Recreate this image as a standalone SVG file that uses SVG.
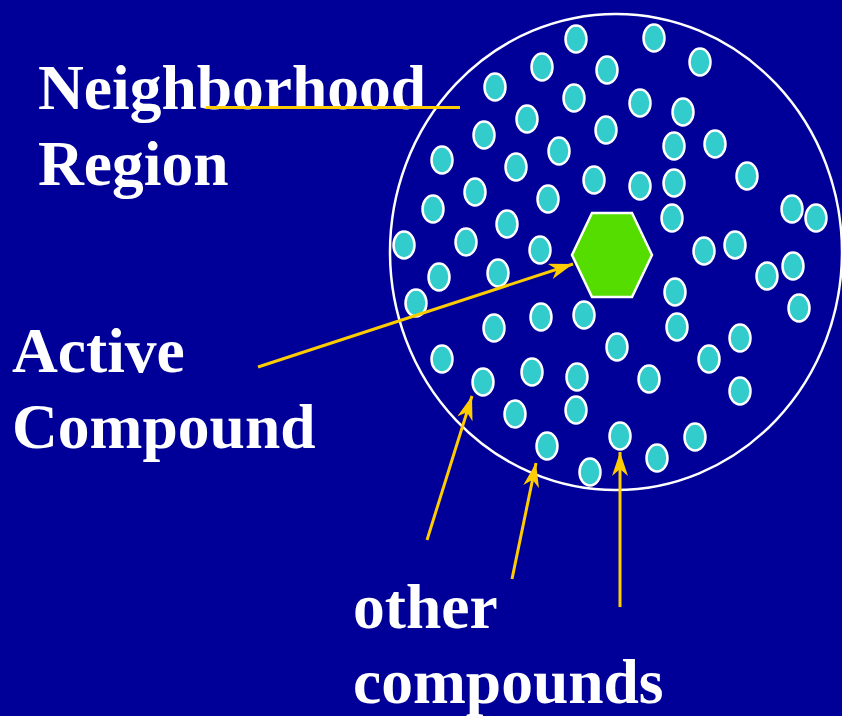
<svg xmlns="http://www.w3.org/2000/svg" width="842" height="716" viewBox="0 0 842 716">
<defs>
<style>
.lbl{font-family:"Liberation Serif","Times New Roman",serif;font-weight:bold;font-size:63.5px;fill:#FFFFFF}
.dot{fill:#33CCCC;stroke:#FFFFFF;stroke-width:2.5}
.conn{stroke:#FFCC00;stroke-width:3;fill:none}
</style>
<marker id="ah" viewBox="0 0 24 16" refX="24" refY="8" markerWidth="24" markerHeight="16" markerUnits="userSpaceOnUse" orient="auto">
<path d="M0,0 L24,8 L0,16 L7,8 Z" fill="#FFCC00"/>
</marker>
</defs>
<rect x="0" y="0" width="842" height="716" fill="#000099"/>
<g id="region">
<ellipse cx="616" cy="252" rx="226" ry="238" fill="none" stroke="#FFFFFF" stroke-width="2.5"/>
</g>
<g id="others">
<ellipse class="dot" cx="576" cy="39" rx="10.5" ry="13.5"/>
<ellipse class="dot" cx="654" cy="38" rx="10.5" ry="13.5"/>
<ellipse class="dot" cx="542" cy="67" rx="10.5" ry="13.5"/>
<ellipse class="dot" cx="607" cy="70" rx="10.5" ry="13.5"/>
<ellipse class="dot" cx="700" cy="62" rx="10.5" ry="13.5"/>
<ellipse class="dot" cx="495" cy="87" rx="10.5" ry="13.5"/>
<ellipse class="dot" cx="574" cy="98" rx="10.5" ry="13.5"/>
<ellipse class="dot" cx="640" cy="103" rx="10.5" ry="13.5"/>
<ellipse class="dot" cx="683" cy="112" rx="10.5" ry="13.5"/>
<ellipse class="dot" cx="527" cy="119" rx="10.5" ry="13.5"/>
<ellipse class="dot" cx="606" cy="130" rx="10.5" ry="13.5"/>
<ellipse class="dot" cx="484" cy="135" rx="10.5" ry="13.5"/>
<ellipse class="dot" cx="674" cy="146" rx="10.5" ry="13.5"/>
<ellipse class="dot" cx="715" cy="144" rx="10.5" ry="13.5"/>
<ellipse class="dot" cx="559" cy="151" rx="10.5" ry="13.5"/>
<ellipse class="dot" cx="442" cy="160" rx="10.5" ry="13.5"/>
<ellipse class="dot" cx="516" cy="167" rx="10.5" ry="13.5"/>
<ellipse class="dot" cx="594" cy="180" rx="10.5" ry="13.5"/>
<ellipse class="dot" cx="640" cy="186" rx="10.5" ry="13.5"/>
<ellipse class="dot" cx="674" cy="183" rx="10.5" ry="13.5"/>
<ellipse class="dot" cx="747" cy="176" rx="10.5" ry="13.5"/>
<ellipse class="dot" cx="475" cy="192" rx="10.5" ry="13.5"/>
<ellipse class="dot" cx="548" cy="199" rx="10.5" ry="13.5"/>
<ellipse class="dot" cx="433" cy="209" rx="10.5" ry="13.5"/>
<ellipse class="dot" cx="507" cy="224" rx="10.5" ry="13.5"/>
<ellipse class="dot" cx="672" cy="218" rx="10.5" ry="13.5"/>
<ellipse class="dot" cx="792" cy="209" rx="10.5" ry="13.5"/>
<ellipse class="dot" cx="816" cy="218" rx="10.5" ry="13.5"/>
<ellipse class="dot" cx="404" cy="245" rx="10.5" ry="13.5"/>
<ellipse class="dot" cx="466" cy="242" rx="10.5" ry="13.5"/>
<ellipse class="dot" cx="540" cy="250" rx="10.5" ry="13.5"/>
<ellipse class="dot" cx="704" cy="251" rx="10.5" ry="13.5"/>
<ellipse class="dot" cx="735" cy="245" rx="10.5" ry="13.5"/>
<ellipse class="dot" cx="439" cy="277" rx="10.5" ry="13.5"/>
<ellipse class="dot" cx="498" cy="273" rx="10.5" ry="13.5"/>
<ellipse class="dot" cx="767" cy="276" rx="10.5" ry="13.5"/>
<ellipse class="dot" cx="793" cy="266" rx="10.5" ry="13.5"/>
<ellipse class="dot" cx="416" cy="303" rx="10.5" ry="13.5"/>
<ellipse class="dot" cx="675" cy="292" rx="10.5" ry="13.5"/>
<ellipse class="dot" cx="799" cy="308" rx="10.5" ry="13.5"/>
<ellipse class="dot" cx="494" cy="328" rx="10.5" ry="13.5"/>
<ellipse class="dot" cx="541" cy="317" rx="10.5" ry="13.5"/>
<ellipse class="dot" cx="584" cy="315" rx="10.5" ry="13.5"/>
<ellipse class="dot" cx="677" cy="327" rx="10.5" ry="13.5"/>
<ellipse class="dot" cx="617" cy="347" rx="10.5" ry="13.5"/>
<ellipse class="dot" cx="740" cy="338" rx="10.5" ry="13.5"/>
<ellipse class="dot" cx="442" cy="359" rx="10.5" ry="13.5"/>
<ellipse class="dot" cx="709" cy="359" rx="10.5" ry="13.5"/>
<ellipse class="dot" cx="532" cy="372" rx="10.5" ry="13.5"/>
<ellipse class="dot" cx="577" cy="377" rx="10.5" ry="13.5"/>
<ellipse class="dot" cx="649" cy="379" rx="10.5" ry="13.5"/>
<ellipse class="dot" cx="483" cy="382" rx="10.5" ry="13.5"/>
<ellipse class="dot" cx="740" cy="391" rx="10.5" ry="13.5"/>
<ellipse class="dot" cx="515" cy="414" rx="10.5" ry="13.5"/>
<ellipse class="dot" cx="576" cy="410" rx="10.5" ry="13.5"/>
<ellipse class="dot" cx="547" cy="446" rx="10.5" ry="13.5"/>
<ellipse class="dot" cx="620" cy="436" rx="10.5" ry="13.5"/>
<ellipse class="dot" cx="695" cy="437" rx="10.5" ry="13.5"/>
<ellipse class="dot" cx="657" cy="458" rx="10.5" ry="13.5"/>
<ellipse class="dot" cx="590" cy="472" rx="10.5" ry="13.5"/>
</g>
<g id="active">
<polygon points="572,255 592,213 632,213 652,255 632,297 592,297" fill="#55DD00" stroke="#FFFFFF" stroke-width="2.5"/>
</g>
<g id="labels">
<text class="lbl" x="38" y="109">Neighborhood</text>
<text class="lbl" x="38" y="185">Region</text>
<text class="lbl" x="12" y="372">Active</text>
<text class="lbl" x="12" y="448">Compound</text>
<text class="lbl" x="353" y="628">other</text>
<text class="lbl" x="353" y="703">compounds</text>
</g>
<g id="connectors">
<line class="conn" x1="206" y1="107.5" x2="460" y2="107.5"/>
<line class="conn" x1="258" y1="367" x2="573" y2="264" marker-end="url(#ah)"/>
<line class="conn" x1="427" y1="540" x2="472" y2="396" marker-end="url(#ah)"/>
<line class="conn" x1="512" y1="579" x2="536" y2="463" marker-end="url(#ah)"/>
<line class="conn" x1="620" y1="607" x2="620" y2="452" marker-end="url(#ah)"/>
</g>
</svg>
